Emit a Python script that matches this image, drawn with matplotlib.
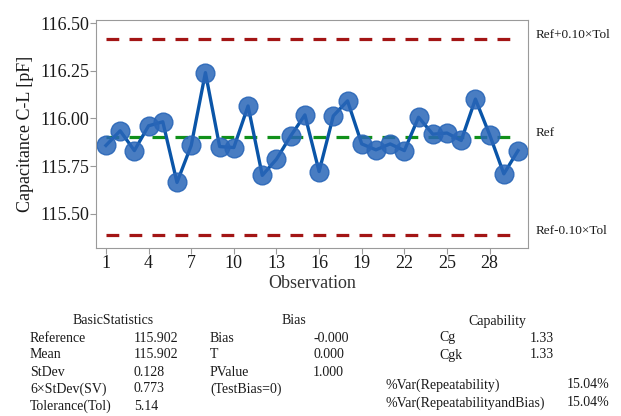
import matplotlib
matplotlib.use("Agg")
import matplotlib.pyplot as plt
import matplotlib.transforms as mtransforms
import numpy as np

plt.rcParams["font.family"] = ["Liberation Serif", "DejaVu Serif"]

obs = np.arange(1, 31)
capacitance = [115.858, 115.935, 115.831, 115.961, 115.982, 115.664, 115.858, 116.240,
               115.852, 115.847, 116.065, 115.701, 115.786, 115.908, 116.018, 115.721,
               116.013, 116.092, 115.866, 115.835, 115.866, 115.831, 116.006, 115.917,
               115.923, 115.884, 116.101, 115.914, 115.709, 115.831]
ref = 115.902
tol = 5.14
upper = ref + 0.10 * tol
lower = ref - 0.10 * tol
line_labels = ["Ref+0.10×Tol", "Ref", "Ref-0.10×Tol"]

basic_names = ["Reference", "Mean", "StDev", "6×StDev(SV)", "Tolerance(Tol)"]
basic_vals = ["115.902", "115.902", "0.128", "0.773", "5.14"]
bias_names = ["Bias", "T", "PValue", "(TestBias=0)"]
bias_vals = ["-0.000", "0.000", "1.000", ""]
cap_names = ["Cg", "Cgk"]
cap_vals = ["1.33", "1.33"]
var_names = ["%Var(Repeatability)", "%Var(RepeatabilityandBias)"]
var_vals = ["15.04%", "15.04%"]

W, H = 621, 416
fig = plt.figure(figsize=(W / 100, H / 100), dpi=100)
ax = fig.add_axes([96 / W, 1 - 248 / H, 432 / W, 228 / H])

ax.plot([1, 30], [upper, upper], color="#a31515", lw=2.3, ls=(0, (4, 3.2)))
ax.plot([1, 30], [lower, lower], color="#a31515", lw=2.3, ls=(0, (4, 3.2)))
ax.plot([1, 30], [ref, ref], color="#11901a", lw=2.3, ls=(0, (4, 3.2)))
ax.plot(obs, capacitance, color="#0a55a8", lw=2.4, marker="o", ms=13.5,
        mfc=(0.16, 0.40, 0.72, 0.85), mec=(0.16, 0.40, 0.72, 0.9), mew=1)

ax.set_xlim(0.3, 30.7)
ax.set_ylim(115.32, 116.516)
ax.set_xticks(np.arange(1, 30, 3))
ax.set_yticks([115.50, 115.75, 116.00, 116.25, 116.50])
ax.set_yticklabels(["115.50", "115.75", "116.00", "116.25", "116.50"])
for s in ax.spines.values():
    s.set_color("#9a9a9a")
ax.tick_params(colors="#9a9a9a", labelcolor="#1a1a1a", labelsize=13, length=4, pad=1)
ax.set_xlabel("Observation", fontsize=13, color="#333333", labelpad=2)
ax.set_ylabel("Capacitance C-L [pF]", fontsize=13, color="#1a1a1a", labelpad=4)

trans = mtransforms.blended_transform_factory(ax.transAxes, ax.transData)
for lab, yv in zip(line_labels, [upper, ref, lower]):
    ax.annotate(lab, xy=(1, yv), xycoords=trans, xytext=(8, 4),
                textcoords="offset pixels", fontsize=9.5, va="center", ha="left",
                color="#1a1a1a")


def put(x, y, s, ha="left", size=10):
    fig.text(x / W, 1 - y / H, s, ha=ha, va="center", fontsize=size, color="#1a1a1a")


row_y = [338, 355, 372, 389, 406]
put(113, 321, "BasicStatistics", ha="center")
for i, (n, v) in enumerate(zip(basic_names, basic_vals)):
    put(30, row_y[i], n)
    put(134, row_y[i], v)

put(294, 321, "Bias", ha="center")
for i, (n, v) in enumerate(zip(bias_names, bias_vals)):
    put(210, row_y[i], n)
    put(313, row_y[i], v)

put(497, 321, "Capability", ha="center")
for i, (n, v) in enumerate(zip(cap_names, cap_vals)):
    put(439, row_y[i], n)
    put(530, row_y[i], v)

for i, (n, v) in enumerate(zip(var_names, var_vals)):
    put(386, [385, 403][i], n)
    put(567, [385, 403][i], v)

fig.savefig("out.png", dpi=100)
